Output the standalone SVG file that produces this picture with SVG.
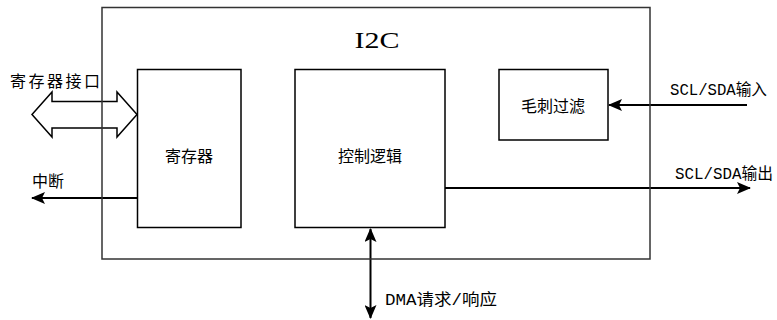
<svg xmlns="http://www.w3.org/2000/svg" width="777" height="320" viewBox="0 0 777 320">
<style>
.box{fill:none;stroke:#000;stroke-width:1.5}
.outer{fill:none;stroke:#333;stroke-width:1.5}
.ln{fill:none;stroke:#000;stroke-width:2}
.t{font-family:"Noto Sans CJK SC","Liberation Sans",sans-serif;font-size:16px;fill:#000}
.m{font-family:"Liberation Mono","Noto Sans CJK SC",monospace;font-size:16px;fill:#000}
</style>
<defs>
<marker id="ah" markerUnits="userSpaceOnUse" markerWidth="14" markerHeight="12" viewBox="0 0 14 12" refX="13" refY="6" orient="auto-start-reverse">
<path d="M0,0 L14,6 L0,12 L3,6 z" fill="#000"/>
</marker>
</defs>
<g id="connectors">
<polygon id="reg-if-arrow" points="32,114.5 52,92 52,101.5 117,101.5 117,92 137,114.5 117,137 117,128 52,128 52,137" fill="#fff" stroke="#000" stroke-width="1.5"/>
<line class="ln" x1="137" y1="198" x2="32" y2="198" marker-end="url(#ah)"/>
<line class="ln" x1="747" y1="105" x2="609" y2="105" marker-end="url(#ah)"/>
<line class="ln" x1="445" y1="188" x2="750" y2="188" marker-end="url(#ah)"/>
<line class="ln" x1="370.5" y1="229" x2="370.5" y2="318" marker-start="url(#ah)" marker-end="url(#ah)"/>
</g>
<g id="i2c">
<rect class="outer" x="102" y="7.5" width="548" height="251.5"/>
<text x="377" y="48" font-family="Liberation Serif, serif" font-size="24" text-anchor="middle" textLength="45" lengthAdjust="spacingAndGlyphs">I2C</text>
</g>
<g id="reg">
<rect class="box" x="137.5" y="69.5" width="103.5" height="158"/>
<text class="t" x="189" y="162" text-anchor="middle" font-size="17">寄存器</text>
</g>
<g id="ctrl">
<rect class="box" x="295" y="69.5" width="150" height="158"/>
<text class="t" x="370" y="162" text-anchor="middle" font-size="17">控制逻辑</text>
</g>
<g id="filter">
<rect class="box" x="499" y="69.5" width="109" height="70.5"/>
<text class="t" x="553" y="112" text-anchor="middle" font-size="17">毛刺过滤</text>
</g>
<g id="labels">
<text class="t" x="10" y="87" font-size="17" textLength="90">寄存器接口</text>
<text class="t" x="32" y="187" font-size="17">中断</text>
<text class="m" x="670" y="95" font-size="17" textLength="97" lengthAdjust="spacingAndGlyphs">SCL/SDA输入</text>
<text class="m" x="675" y="179" font-size="17" textLength="98" lengthAdjust="spacingAndGlyphs">SCL/SDA输出</text>
<text class="m" x="385" y="305" font-size="16" textLength="112" lengthAdjust="spacingAndGlyphs">DMA请求/响应</text>
</g>
</svg>
